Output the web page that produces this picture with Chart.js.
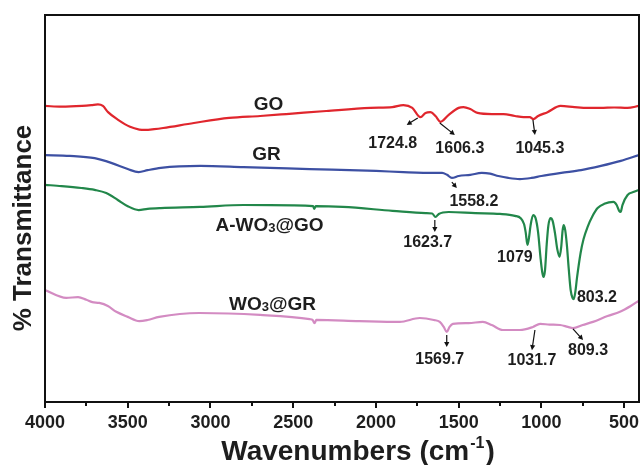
<!DOCTYPE html>
<html><head><meta charset="utf-8">
<script src="https://cdn.jsdelivr.net/npm/chart.js"></script>
<style>html,body{margin:0;padding:0;background:#fff;overflow:hidden}</style>
</head><body>
<canvas id="c" width="640" height="465"></canvas>
<script>
// ---- data (wavenumber in cm-1, transmittance in arbitrary %) ----
const goWave = [4000,3900,3776,3720,3680,3650,3619,3558,3486,3430,3395,3340,3286,3100,2887,2700,2542,2300,2034,1901,1834,1780,1731,1700,1671,1640,1610,1560,1500,1471,1430,1386,1300,1229,1160,1108,1070,1048,1020,963,884,800,720,642,560,480,410];
const goT    = [76.5,76.3,76.5,76.7,76.9,76.5,74.9,72.9,71.1,70.4,70.3,70.5,70.8,72.1,73.4,73.9,74.4,75.2,76.0,76.2,76.7,76.0,73.6,74.7,74.9,73.9,72.4,74.2,76.0,76.2,75.7,74.7,74.4,74.4,73.9,73.6,73.6,73.1,73.9,74.9,76.5,76.2,76.0,76.0,76.1,76.0,76.5];

const grWave = [4000,3850,3700,3600,3500,3434,3380,3300,3062,2800,2400,2000,1834,1650,1600,1570,1541,1500,1430,1360,1310,1260,1200,1130,1060,1000,880,760,640,520,410];
const grT    = [63.8,63.6,63.0,61.8,60.2,59.4,59.9,60.5,61.0,60.7,60.2,59.7,59.4,59.2,59.2,58.7,57.9,58.4,58.7,59.2,59.0,58.4,57.9,57.6,57.9,58.4,59.2,59.9,61.0,62.3,63.8];

const awoWave = [4000,3900,3780,3700,3630,3560,3500,3434,3380,3300,3062,2800,2500,2380,2372,2364,2200,1900,1700,1660,1640,1620,1560,1400,1250,1160,1125,1105,1095,1084,1075,1065,1050,1035,1020,1005,995,987,978,968,958,945,932,918,903,890,880,872,866,856,846,835,823,812,804,795,785,763,745,721,690,660,620,564,545,530,521,510,479,440,410];
const awoT    = [56.1,55.8,55.3,54.8,54.0,52.2,50.6,49.6,49.9,50.1,50.4,50.9,50.8,50.6,49.9,50.6,50.4,49.4,48.8,48.7,47.8,48.6,49.1,48.8,48.6,48.1,47.5,46.0,43.9,40.6,42.4,45.7,48.3,47.5,43.9,37.2,33.6,32.3,34.1,40.6,45.5,47.5,46.8,43.7,39.3,37.5,40.1,44.2,45.7,44.4,40.6,34.6,28.9,26.9,26.6,28.4,32.0,38.5,42.1,45.2,48.1,50.1,51.2,51.7,50.9,49.4,49.1,50.9,53.5,54.3,54.8];

const wgrWave = [4000,3872,3800,3750,3714,3672,3620,3569,3500,3430,3380,3310,3067,2700,2400,2383,2371,2360,2100,1856,1735,1650,1614,1590,1572,1555,1535,1440,1354,1300,1233,1130,1051,1008,950,887,840,809,750,688,600,525,460,410];
const wgrT    = [28.9,26.9,27.1,26.4,25.8,25.6,24.8,23.3,22.0,20.9,21.2,22.0,23.0,22.5,21.4,21.2,20.4,21.2,20.9,20.7,21.7,21.2,20.7,19.4,18.1,19.4,20.2,20.4,20.7,19.9,18.6,18.6,19.4,20.2,20.0,19.9,19.4,19.1,19.9,20.7,22.2,23.3,24.8,26.2];

const seriesNames  = ['GO','GR','A-WO3@GO','WO3@GR'];
const xTickValues  = [4000,3500,3000,2500,2000,1500,1000,500];
const xTickLabels  = ['4000','3500','3000','2500','2000','1500','1000','500'];
const xMinorValues = [3750,3250,2750,2250,1750,1250,750];

// annotation texts and anchor points (wavenumber, transmittance)
const peakLabels   = ['1724.8','1606.3','1045.3','1558.2','1623.7','1079','803.2','1569.7','1031.7','809.3'];
const peakLabelW   = [1898,1493,1009,1408,1687,1160,664,1614,1057,718];
const peakLabelT   = [66.8,65.6,65.6,51.7,41.1,37.2,27.1,10.9,10.6,13.4];
const arrowFromW   = [1747,1614,1051,1541,1644,1572,1039,809];
const arrowFromT   = [73.4,72.1,72.9,56.8,47.0,17.3,18.6,18.9];
const arrowToW     = [1814,1523,1039,1511,1644,1572,1057,748];
const arrowToT     = [71.6,69.0,69.0,55.3,43.9,14.2,13.4,16.0];
const nameLabelW   = [2649,2661,2643,2625];
const nameLabelT   = [77.3,64.3,46.0,25.6];

// ---- styling ----
const colors = ['#e0262d','#3d50a3','#22874a','#d38bc2'];
const TXT = '#1e1e1e';
const FONT = '"Liberation Sans", Arial, Helvetica, sans-serif';

function pts(w, t){ return w.map((v,i)=>({x:v, y:t[i]})); }
const allW = [goWave, grWave, awoWave, wgrWave];
const allT = [goT, grT, awoT, wgrT];

function drawRich(ctx, text, cx, cy, size){
  const parts = [];
  const m = text.split(/(WO)(3)/);
  for (let i=0;i<m.length;i++){
    if (m[i]==='') continue;
    if (m[i]==='3' && m[i-1]==='WO') parts.push([m[i],true]); else parts.push([m[i],false]);
  }
  const big = 'bold '+size+'px '+FONT, small = 'bold '+Math.round(size*0.68)+'px '+FONT;
  let total = 0;
  parts.forEach(p=>{ ctx.font = p[1]?small:big; total += ctx.measureText(p[0]).width; });
  let x = cx - total/2;
  ctx.textBaseline = 'alphabetic'; ctx.textAlign='left';
  const base = cy + size*0.36;
  parts.forEach(p=>{ ctx.font = p[1]?small:big; ctx.fillText(p[0], x, base + (p[1]?1:0)); x += ctx.measureText(p[0]).width; });
}

function arrow(ctx, x1,y1,x2,y2){
  const ang = Math.atan2(y2-y1, x2-x1);
  const hl = 5, hw = 2.6;
  ctx.beginPath(); ctx.moveTo(x1,y1); ctx.lineTo(x2 - Math.cos(ang)*hl*0.6, y2 - Math.sin(ang)*hl*0.6); ctx.stroke();
  ctx.beginPath();
  ctx.moveTo(x2,y2);
  ctx.lineTo(x2 - Math.cos(ang)*hl - Math.sin(ang)*hw, y2 - Math.sin(ang)*hl + Math.cos(ang)*hw);
  ctx.lineTo(x2 - Math.cos(ang)*hl + Math.sin(ang)*hw, y2 - Math.sin(ang)*hl - Math.cos(ang)*hw);
  ctx.closePath(); ctx.fill();
}

const decor = {
  id:'decor',
  afterDraw(chart){
    const {ctx, chartArea:a, scales:{x, y}} = chart;
    ctx.save();
    // frame
    ctx.strokeStyle = '#111'; ctx.lineWidth = 2;
    ctx.strokeRect(a.left, a.top, a.right-a.left, a.bottom-a.top);
    // outward ticks
    xTickValues.forEach(v=>{ const px = Math.round(x.getPixelForValue(v)); ctx.beginPath(); ctx.moveTo(px, a.bottom); ctx.lineTo(px, a.bottom+6); ctx.stroke(); });
    xMinorValues.forEach(v=>{ const px = Math.round(x.getPixelForValue(v)); ctx.beginPath(); ctx.moveTo(px, a.bottom); ctx.lineTo(px, a.bottom+4); ctx.stroke(); });
    // tick labels
    ctx.fillStyle = TXT; ctx.font = 'bold 18px '+FONT; ctx.textAlign='center'; ctx.textBaseline='middle';
    xTickValues.forEach((v,i)=>{ ctx.fillText(xTickLabels[i], x.getPixelForValue(v), a.bottom+21); });
    // series names
    seriesNames.forEach((n,i)=>{ drawRich(ctx, n, x.getPixelForValue(nameLabelW[i]), y.getPixelForValue(nameLabelT[i]), 19); });
    // peak labels
    ctx.font = 'bold 16px '+FONT; ctx.textAlign='center'; ctx.textBaseline='middle';
    peakLabels.forEach((s,i)=>{ ctx.fillText(s, x.getPixelForValue(peakLabelW[i]), y.getPixelForValue(peakLabelT[i])); });
    // arrows
    ctx.strokeStyle = '#111'; ctx.fillStyle = '#111'; ctx.lineWidth = 1.2;
    arrowFromW.forEach((w,i)=>{ arrow(ctx, x.getPixelForValue(w), y.getPixelForValue(arrowFromT[i]), x.getPixelForValue(arrowToW[i]), y.getPixelForValue(arrowToT[i])); });
    // axis titles
    ctx.fillStyle = TXT;
    ctx.save();
    ctx.translate(24, 228); ctx.rotate(-Math.PI/2);
    ctx.font = 'bold 26px '+FONT; ctx.textAlign='center'; ctx.textBaseline='middle';
    ctx.fillText('% Transmittance', 0, 0);
    ctx.restore();
    const big = 'bold 28px '+FONT, sup = 'bold 16px '+FONT;
    const p1 = 'Wavenumbers (cm', p2 = '-1', p3 = ')';
    ctx.font = big; const w1 = ctx.measureText(p1).width, w3 = ctx.measureText(p3).width;
    ctx.font = sup; const w2 = ctx.measureText(p2).width;
    let sx = 357 - (w1+w2+w3)/2; const by = 460;
    ctx.textAlign='left'; ctx.textBaseline='alphabetic';
    ctx.font = big; ctx.fillText(p1, sx, by); sx += w1;
    ctx.font = sup; ctx.fillText(p2, sx+1, by-12); sx += w2+2;
    ctx.font = big; ctx.fillText(p3, sx, by);
    ctx.restore();
  }
};

new Chart(document.getElementById('c'), {
  type:'line',
  data:{ datasets: seriesNames.map((n,i)=>({
    label:n, data: pts(allW[i], allT[i]), borderColor: colors[i], backgroundColor: colors[i],
    borderWidth: 2.2, pointRadius: 0, fill:false, cubicInterpolationMode:'monotone'
  }))},
  options:{
    responsive:false, animation:false, devicePixelRatio:1,
    layout:{ padding:{ top:15, right:1, left:0, bottom:0 } },
    plugins:{ legend:{display:false}, tooltip:{enabled:false} },
    scales:{
      x:{ type:'linear', reverse:true, min:410, max:4000,
          afterBuildTicks: s => { s.ticks = xTickValues.map(v=>({value:v})); },
          afterFit: s => { s.height = 63; s.paddingLeft = 0; s.paddingRight = 0; },
          grid:{ display:false, drawTicks:false },
          border:{ display:true, color:'#111', width:2 },
          ticks:{ display:false }
      },
      y:{ type:'linear', min:0, max:100,
          afterFit: s => { s.width = 45; },
          grid:{ display:false, drawTicks:false },
          border:{ display:true, color:'#111', width:2 },
          ticks:{ display:false }
      }
    }
  },
  plugins:[decor]
});
</script>
</body></html>
